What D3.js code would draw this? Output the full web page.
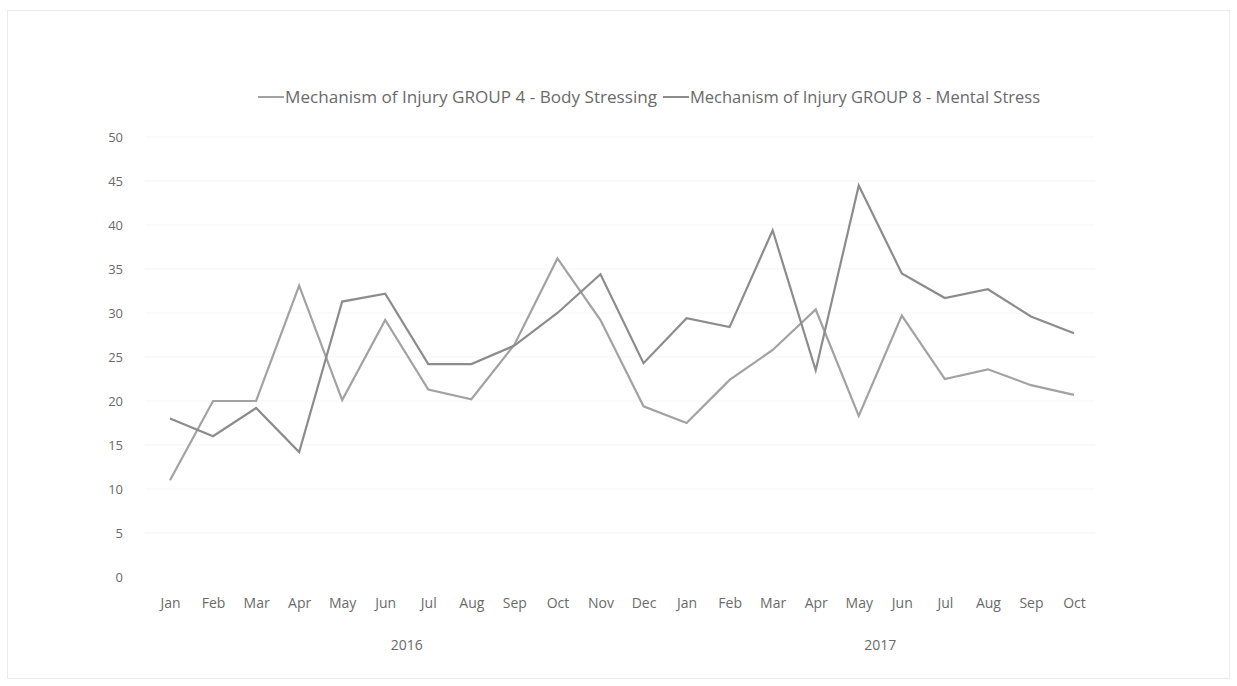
<!DOCTYPE html>
<html>
<head>
<meta charset="utf-8">
<script src="https://cdn.jsdelivr.net/npm/d3@7"></script>
<style>
  html, body { margin: 0; padding: 0; background: #fff; }
  svg { display: block; }
  text { font-family: "Open Sans", "Liberation Sans", sans-serif; fill: #6a6a6a; }
</style>
</head>
<body>
<svg id="chart" width="1237" height="686"></svg>
<script>
const months = ["Jan","Feb","Mar","Apr","May","Jun","Jul","Aug","Sep","Oct","Nov","Dec",
                "Jan","Feb","Mar","Apr","May","Jun","Jul","Aug","Sep","Oct"];
const years = [{label: "2016", from: 0, to: 11}, {label: "2017", from: 12, to: 21}];
const yTicks = [0, 5, 10, 15, 20, 25, 30, 35, 40, 45, 50];
const seriesNames = ["Mechanism of Injury GROUP 4 - Body Stressing", "Mechanism of Injury GROUP 8 - Mental Stress"];
const bodyStressing = [11, 20, 20, 33.1, 20.1, 29.2, 21.3, 20.2, 26.4, 36.2, 29.2, 19.4,
                       17.5, 22.4, 25.8, 30.4, 18.3, 29.7, 22.5, 23.6, 21.8, 20.7];
const mentalStress = [18, 16, 19.2, 14.2, 31.3, 32.2, 24.2, 24.2, 26.3, 30.0, 34.4, 24.3,
                      29.4, 28.4, 39.4, 23.5, 44.5, 34.5, 31.7, 32.7, 29.6, 27.7];
const colors = ["#a2a2a2", "#8c8c8c"];

const svg = d3.select("#chart");

// outer border
svg.append("rect").attr("x", 7.5).attr("y", 10.5).attr("width", 1222).attr("height", 668)
  .attr("fill", "none").attr("stroke", "#ececec").attr("stroke-width", 1);

const x = d3.scalePoint().domain(d3.range(months.length)).range([170, 1074]);
const y = d3.scaleLinear().domain([0, 50]).range([577, 137]);

// faint gridlines
svg.append("g").selectAll("line").data(yTicks.filter(d => d > 0)).join("line")
  .attr("x1", 145).attr("x2", 1095)
  .attr("y1", d => y(d)).attr("y2", d => y(d))
  .attr("stroke", "#f5f5f5").attr("stroke-width", 1);

// y axis labels
const yAxis = d3.axisLeft(y).tickValues(yTicks).tickSize(0).tickPadding(0);
const yg = svg.append("g").attr("transform", "translate(123,0)").call(yAxis);
yg.select(".domain").remove();
yg.selectAll("text").style("font-size", "13px").attr("fill", "#6a6a6a")
  .style("font-family", "'Open Sans', sans-serif");

// x axis month labels
const xAxis = d3.axisBottom(x).tickFormat(i => months[i]).tickSize(0).tickPadding(0);
const xg = svg.append("g").attr("transform", "translate(0,598)").call(xAxis);
xg.select(".domain").remove();
xg.selectAll("text").style("font-size", "14px").attr("fill", "#6a6a6a")
  .style("font-family", "'Open Sans', sans-serif");

// year labels
svg.append("g").selectAll("text").data(years).join("text")
  .attr("x", d => (x(d.from) + x(d.to)) / 2)
  .attr("y", 650)
  .attr("text-anchor", "middle")
  .style("font-size", "14px")
  .text(d => d.label);

// lines
const line = d3.line().x((d, i) => x(i)).y(d => y(d));
[bodyStressing, mentalStress].forEach((s, k) => {
  svg.append("path").datum(s)
    .attr("fill", "none").attr("stroke", colors[k]).attr("stroke-width", 2.2)
    .attr("stroke-linejoin", "miter")
    .attr("d", line);
});

// legend
const legendX = [258, 663];
const legendW = [372, 350];
const lg = svg.append("g");
seriesNames.forEach((name, k) => {
  lg.append("line").attr("x1", legendX[k]).attr("x2", legendX[k] + 26)
    .attr("y1", 97).attr("y2", 97).attr("stroke", colors[k]).attr("stroke-width", 2);
  lg.append("text").attr("x", legendX[k] + 27).attr("y", 103)
    .style("font-size", "16px")
    .attr("textLength", legendW[k]).attr("lengthAdjust", "spacingAndGlyphs")
    .text(name);
});
</script>
</body>
</html>
